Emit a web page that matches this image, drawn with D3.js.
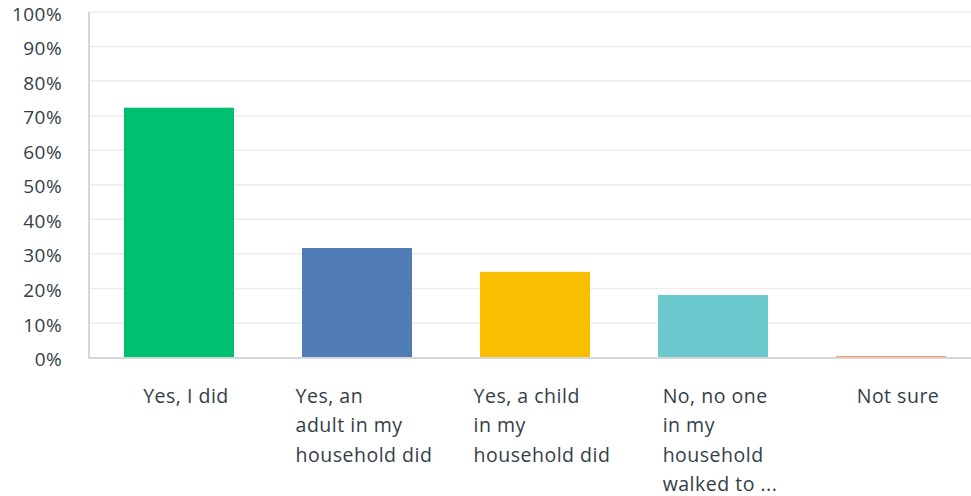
<!DOCTYPE html>
<html>
<head>
<meta charset="utf-8">
<script src="https://cdn.jsdelivr.net/npm/d3@7"></script>
<style>
  html, body { margin: 0; padding: 0; background: #fff; }
  svg { display: block; }
  text { font-family: "Open Sans", "Noto Sans", sans-serif; fill: #333e48; letter-spacing: 0.5px; }
</style>
</head>
<body>
<svg id="chart" width="971" height="496"></svg>
<script>
const categories = [
  ["Yes, I did"],
  ["Yes, an", "adult in my", "household did"],
  ["Yes, a child", "in my", "household did"],
  ["No, no one", "in my", "household", "walked to ..."],
  ["Not sure"]
];
const values = [72.3, 31.7, 24.8, 18.1, 0.4];
const colors = ["#00bf6f", "#507cb6", "#f9be00", "#6bc8cd", "#ff8b4f"];
const yTicks = [0, 10, 20, 30, 40, 50, 60, 70, 80, 90, 100];

const svg = d3.select("#chart");
const plotLeft = 90, plotRight = 980, plotTop = 12, plotBottom = 357.5;

const x = d3.scaleBand().domain(d3.range(values.length)).range([plotLeft, plotRight]).paddingInner(0.382).paddingOuter(0.191);
const y = d3.scaleLinear().domain([0, 100]).range([plotBottom, plotTop]);

// gridlines
svg.append("g").selectAll("line").data(yTicks.filter(d => d > 0)).join("line")
  .attr("x1", plotLeft).attr("x2", 971)
  .attr("y1", d => y(d)).attr("y2", d => y(d))
  .attr("stroke", "#ececec").attr("stroke-width", 1.5);

// y axis labels
const yAxis = d3.axisLeft(y).tickValues(yTicks).tickFormat(d => d + "%").tickSize(0).tickPadding(0);
const gy = svg.append("g").attr("transform", `translate(62,2)`).call(yAxis);
gy.select(".domain").remove();
gy.selectAll("text").style("font-size", "19px").style("font-family", "\"Open Sans\", sans-serif")
  .style("letter-spacing", "0.4px").attr("fill", "#333e48");

// bars
svg.append("g").selectAll("rect").data(values).join("rect")
  .attr("x", (d, i) => x(i)).attr("width", x.bandwidth())
  .attr("y", d => y(d)).attr("height", d => Math.max(1.2, y(0) - y(d)))
  .attr("fill", (d, i) => colors[i]);

// axis lines
svg.append("line").attr("x1", 89).attr("x2", 89).attr("y1", plotTop).attr("y2", plotBottom + 1)
  .attr("stroke", "#d6d6d6").attr("stroke-width", 2);
svg.append("line").attr("x1", 88).attr("x2", 971).attr("y1", plotBottom + 0.5).attr("y2", plotBottom + 0.5)
  .attr("stroke", "#d6d6d6").attr("stroke-width", 2);

// category labels
const lg = svg.append("g");
categories.forEach((lines, i) => {
  const t = lg.append("text").style("font-size", "19.5px");
  lines.forEach((ln, j) => {
    t.append("tspan").attr("x", 0).attr("y", 403 + j * 29.3).text(ln);
  });
  const w = d3.max(t.selectAll("tspan").nodes(), n => n.getComputedTextLength());
  const cx = x(i) + x.bandwidth() / 2 + 7;
  t.attr("transform", `translate(${cx - w / 2},0)`);
});
</script>
</body>
</html>
